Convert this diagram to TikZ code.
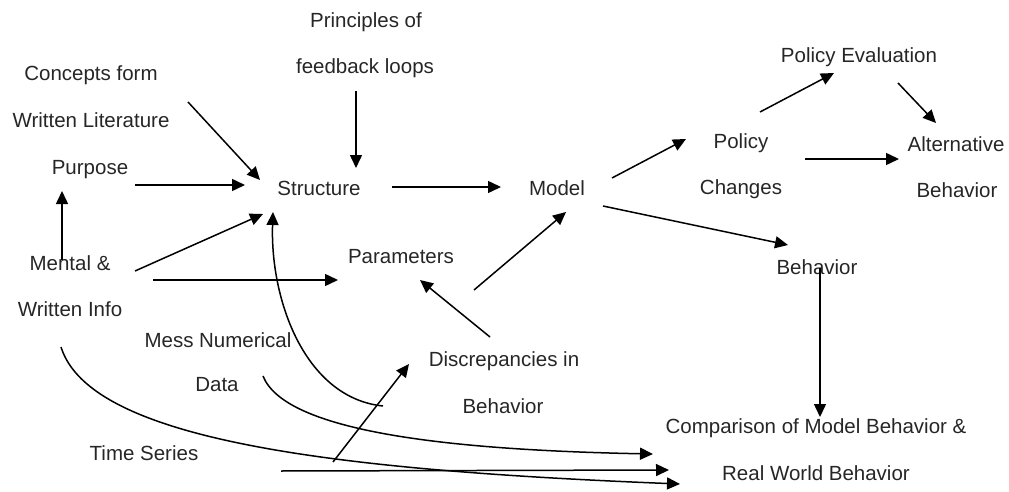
\documentclass[tikz,border=0pt]{standalone}
\usepackage{fontspec}
\setmainfont{Liberation Sans}
\usetikzlibrary{arrows.meta}
\begin{document}
\begin{tikzpicture}[x=1pt,y=-1pt,
  lbl/.style={inner sep=0pt,text=black!85,font=\fontsize{20.5}{24}\selectfont},
  arr/.style={line width=1.5pt,-{Triangle[length=13pt,width=12pt]}},
  ln/.style={line width=1.5pt}]
\useasboundingbox (0,0) rectangle (1009,492);
% texts
\node[lbl] (prin) at (366,22) {Principles of};
\node[lbl] (feed) at (365,68) {feedback loops};
\node[lbl] (conc) at (91,75) {Concepts form};
\node[lbl] (wlit) at (91,120) {Written Literature};
\node[lbl] (purp) at (90,170) {Purpose};
\node[lbl] (stru) at (319,188) {Structure};
\node[lbl] (mode) at (557,188) {Model};
\node[lbl] (pol) at (741,143) {Policy};
\node[lbl] (chg) at (741,189) {Changes};
\node[lbl] (peval) at (859,57) {Policy Evaluation};
\node[lbl] (alt) at (956,144) {Alternative};
\node[lbl] (altb) at (957,190) {Behavior};
\node[lbl] (beh) at (817,267) {Behavior};
\node[lbl] (par) at (401,257) {Parameters};
\node[lbl] (ment) at (70,263) {Mental \&};
\node[lbl] (winfo) at (70,309) {Written Info};
\node[lbl] (mess) at (218,340) {Mess Numerical};
\node[lbl] (data) at (217,385) {Data};
\node[lbl] (ts) at (144,453) {Time Series};
\node[lbl] (disc) at (504,361) {Discrepancies in};
\node[lbl] (discb) at (503,406) {Behavior};
\node[lbl] (comp) at (816,428) {Comparison of Model Behavior \&};
\node[lbl] (real) at (816,473) {Real World Behavior};
% connector end points
\coordinate (feedS) at (356,91);
\coordinate (struN) at (356,168);
\coordinate (concS) at (188,102);
\coordinate (struNW) at (260,180);
\coordinate (purpE) at (135,185);
\coordinate (struW) at (245,185);
\coordinate (mentE) at (135,271);
\coordinate (struSW) at (263,214);
\coordinate (mentE2) at (153,280);
\coordinate (parW) at (338,280);
\coordinate (mentN) at (62,260);
\coordinate (purpS) at (62,191);
\coordinate (struE) at (392,187);
\coordinate (modW) at (501,187);
\coordinate (modNE) at (612,178);
\coordinate (polW) at (686,139);
\coordinate (polNE) at (760,112);
\coordinate (pevS) at (834,73);
\coordinate (pevSE) at (898,83);
\coordinate (altN) at (936,123);
\coordinate (chgE) at (805,159);
\coordinate (altW) at (899,159);
\coordinate (modSE) at (603,206);
\coordinate (behN) at (788,245);
\coordinate (parSE) at (474,290);
\coordinate (modS) at (566,212);
\coordinate (discN) at (490,337);
\coordinate (parS) at (420,280);
\coordinate (behS) at (820,268);
\coordinate (compN) at (820,417);
\coordinate (loopS) at (383,406);
\coordinate (struS) at (273,212);
\coordinate (tsA) at (333,462);
\coordinate (discW) at (409,364);
\coordinate (tsB) at (281,471);
\coordinate (compA) at (669,470);
\coordinate (dataE) at (263,376);
\coordinate (compB) at (653,454);
\coordinate (winfoS) at (61,347);
\coordinate (compC) at (680,484);
% connectors
\draw[arr] (feedS) -- (struN);
\draw[arr] (concS) -- (struNW);
\draw[arr] (purpE) -- (struW);
\draw[arr] (mentE) -- (struSW);
\draw[arr] (mentE2) -- (parW);
\draw[arr] (mentN) -- (purpS);
\draw[arr] (struE) -- (modW);
\draw[arr] (modNE) -- (polW);
\draw[arr] (polNE) -- (pevS);
\draw[arr] (pevSE) -- (altN);
\draw[arr] (chgE) -- (altW);
\draw[arr] (modSE) -- (behN);
\draw[arr] (parSE) -- (modS);
\draw[arr] (discN) -- (parS);
\draw[arr] (behS) -- (compN);
\draw[arr] (loopS) .. controls (305,398) and (270,300) .. (struS);
\draw[arr] (tsA) -- (discW);
\draw[arr] (tsB) -- (compA);
\draw[arr] (dataE) .. controls (285,432) and (450,450) .. (compB);
\draw[arr] (winfoS) .. controls (90,440) and (330,470) .. (compC);
\end{tikzpicture}
\end{document}
